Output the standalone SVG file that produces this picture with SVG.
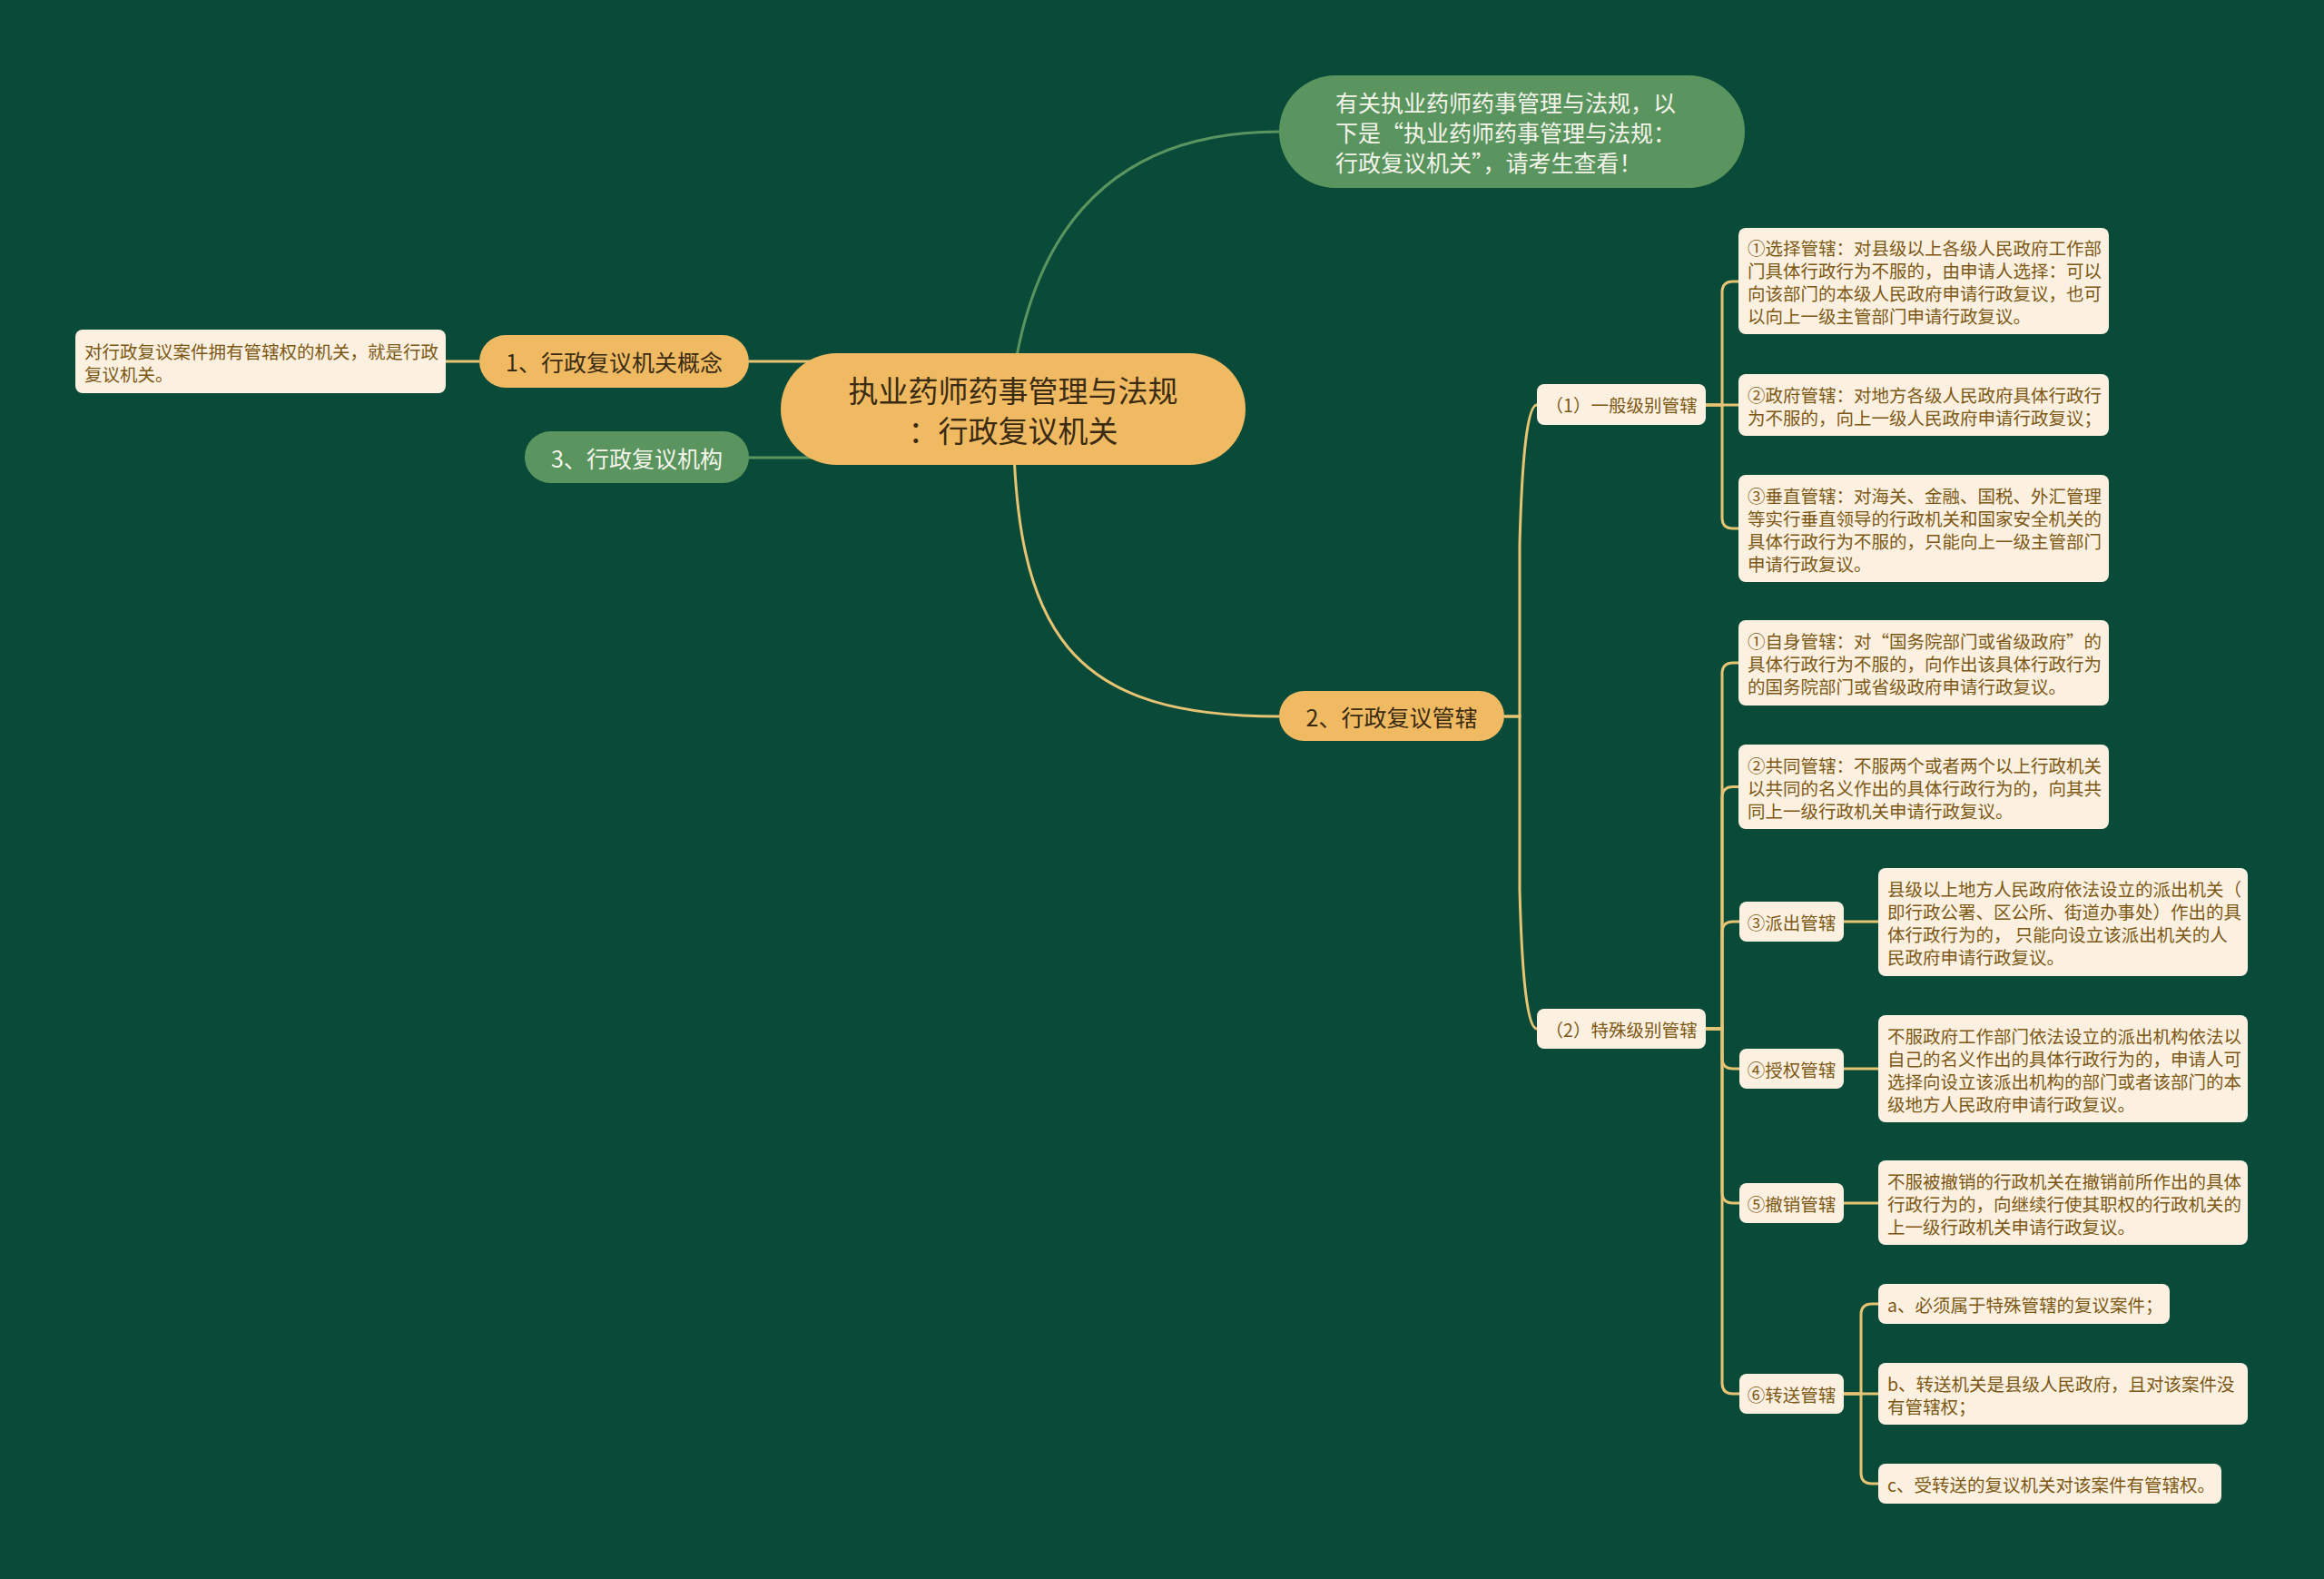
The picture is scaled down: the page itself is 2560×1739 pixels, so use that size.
<svg xmlns="http://www.w3.org/2000/svg" width="2560" height="1739" viewBox="0 0 2560 1739">
<style>
text{font-family:"Noto Sans CJK SC","Noto Sans",sans-serif;dominant-baseline:central}
.gold{fill:#f0ba62}
.green{fill:#5a9560}
.leaf{fill:#fcf1e1}
.tdark{fill:#3a2b12}
.tlight{fill:#f4f4ea}
.tleaf{fill:#7d5814;font-size:19.5px}
.cy{fill:none;stroke:#e6c474;stroke-width:3}
.cg{fill:none;stroke:#5a9560;stroke-width:3}
</style>
<rect width="2560" height="1739" fill="#0a4a38"/>
<g id="connectors">
<path class="cg" d="M1112 450 Q1140 145 1409 145"/>
<path class="cy" d="M1116 450 C1116 700 1180 789 1409 789"/>
<path class="cy" d="M960 398 H825"/>
<path class="cg" d="M960 504 H825"/>
<path class="cy" d="M491 398 H528"/>
<path class="cy" d="M1657 789 H1674 V600 Q1678 446 1693 446"/>
<path class="cy" d="M1657 789 H1674 V980 Q1678 1133 1693 1133"/>
<path class="cy" d="M1879 446 H1897 V322 Q1897 310 1909 310 H1915"/>
<path class="cy" d="M1879 446 H1915"/>
<path class="cy" d="M1879 446 H1897 V570 Q1897 582 1909 582 H1915"/>
<path class="cy" d="M1879 1133 H1897 V742 Q1897 730 1909 730 H1915"/>
<path class="cy" d="M1879 1133 H1897 V878.5 Q1897 866.5 1909 866.5 H1915"/>
<path class="cy" d="M1879 1133 H1897 V1027 Q1897 1015 1909 1015 H1916"/>
<path class="cy" d="M1879 1133 H1897 V1165 Q1897 1177 1909 1177 H1916"/>
<path class="cy" d="M1879 1133 H1897 V1313 Q1897 1325 1909 1325 H1916"/>
<path class="cy" d="M1879 1133 H1897 V1523 Q1897 1535 1909 1535 H1916"/>
<path class="cy" d="M2031 1015 H2069"/>
<path class="cy" d="M2031 1177 H2069"/>
<path class="cy" d="M2031 1325 H2069"/>
<path class="cy" d="M2031 1535 H2050 V1448 Q2050 1436 2062 1436 H2069"/>
<path class="cy" d="M2031 1535 H2069"/>
<path class="cy" d="M2031 1535 H2050 V1622 Q2050 1634 2062 1634 H2069"/>
</g>
<g id="central">
<rect class="gold" x="860" y="389" width="512" height="123" rx="61.5"/>
<text class="tdark" x="1116" y="429" font-size="33" text-anchor="middle">执业药师药事管理与法规</text>
<text class="tdark" x="1116" y="473" font-size="33" text-anchor="middle">：行政复议机关</text>
</g>
<g id="intro">
<rect class="green" x="1409" y="83" width="513" height="124" rx="62"/>
<text class="tlight" font-size="25"><tspan x="1471" y="112">有关执业药师药事管理与法规，以</tspan><tspan x="1471" y="145">下是“执业药师药事管理与法规：</tspan><tspan x="1471" y="178">行政复议机关”，请考生查看！</tspan></text>
</g>
<g id="n1">
<rect class="gold" x="528" y="369" width="297" height="58" rx="29"/>
<text class="tdark" x="676.5" y="398" font-size="25" text-anchor="middle">1、行政复议机关概念</text>
</g>
<g id="n1-leaf">
<rect class="leaf" x="83" y="363" width="408" height="70" rx="8"/>
<text class="tleaf"><tspan x="93" y="386">对行政复议案件拥有管辖权的机关，就是行政</tspan><tspan x="93" y="411">复议机关。</tspan></text>
</g>
<g id="n3">
<rect class="green" x="578" y="475" width="247" height="57" rx="28.5"/>
<text class="tlight" x="701.5" y="503.5" font-size="25" text-anchor="middle">3、行政复议机构</text>
</g>
<g id="n2">
<rect class="gold" x="1409" y="761" width="248" height="55" rx="27.5"/>
<text class="tdark" x="1533" y="788.5" font-size="25" text-anchor="middle">2、行政复议管辖</text>
</g>
<g id="general">
<rect class="leaf" x="1693" y="423" width="186" height="45" rx="8"/>
<text class="tleaf" x="1786" y="445.5" text-anchor="middle">（1）一般级别管辖</text>
</g>
<g id="g1">
<rect class="leaf" x="1915" y="251" width="408" height="117" rx="8"/>
<text class="tleaf"><tspan x="1925" y="272">①选择管辖：对县级以上各级人民政府工作部</tspan><tspan x="1925" y="297">门具体行政行为不服的，由申请人选择：可以</tspan><tspan x="1925" y="322">向该部门的本级人民政府申请行政复议，也可</tspan><tspan x="1925" y="347">以向上一级主管部门申请行政复议。</tspan></text>
</g>
<g id="g2">
<rect class="leaf" x="1915" y="412" width="408" height="68" rx="8"/>
<text class="tleaf"><tspan x="1925" y="433.5">②政府管辖：对地方各级人民政府具体行政行</tspan><tspan x="1925" y="458.5">为不服的，向上一级人民政府申请行政复议；</tspan></text>
</g>
<g id="g3">
<rect class="leaf" x="1915" y="523" width="408" height="118" rx="8"/>
<text class="tleaf"><tspan x="1925" y="544.5">③垂直管辖：对海关、金融、国税、外汇管理</tspan><tspan x="1925" y="569.5">等实行垂直领导的行政机关和国家安全机关的</tspan><tspan x="1925" y="594.5">具体行政行为不服的，只能向上一级主管部门</tspan><tspan x="1925" y="619.5">申请行政复议。</tspan></text>
</g>
<g id="special">
<rect class="leaf" x="1693" y="1111" width="186" height="44" rx="8"/>
<text class="tleaf" x="1786" y="1133" text-anchor="middle">（2）特殊级别管辖</text>
</g>
<g id="s1">
<rect class="leaf" x="1915" y="683" width="408" height="94" rx="8"/>
<text class="tleaf"><tspan x="1925" y="705">①自身管辖：对“国务院部门或省级政府”的</tspan><tspan x="1925" y="730">具体行政行为不服的，向作出该具体行政行为</tspan><tspan x="1925" y="755">的国务院部门或省级政府申请行政复议。</tspan></text>
</g>
<g id="s2">
<rect class="leaf" x="1915" y="820" width="408" height="93" rx="8"/>
<text class="tleaf"><tspan x="1925" y="841.5">②共同管辖：不服两个或者两个以上行政机关</tspan><tspan x="1925" y="866.5">以共同的名义作出的具体行政行为的，向其共</tspan><tspan x="1925" y="891.5">同上一级行政机关申请行政复议。</tspan></text>
</g>
<g id="s3">
<rect class="leaf" x="1916" y="993" width="115" height="44" rx="8"/>
<text class="tleaf" x="1973.5" y="1015" text-anchor="middle">③派出管辖</text>
</g>
<g id="s3-leaf">
<rect class="leaf" x="2069" y="956" width="407" height="119" rx="8"/>
<text class="tleaf"><tspan x="2079" y="978">县级以上地方人民政府依法设立的派出机关（</tspan><tspan x="2079" y="1003">即行政公署、区公所、街道办事处）作出的具</tspan><tspan x="2079" y="1028">体行政行为的， 只能向设立该派出机关的人</tspan><tspan x="2079" y="1053">民政府申请行政复议。</tspan></text>
</g>
<g id="s4">
<rect class="leaf" x="1916" y="1155" width="115" height="44" rx="8"/>
<text class="tleaf" x="1973.5" y="1177" text-anchor="middle">④授权管辖</text>
</g>
<g id="s4-leaf">
<rect class="leaf" x="2069" y="1118" width="407" height="118" rx="8"/>
<text class="tleaf"><tspan x="2079" y="1139.5">不服政府工作部门依法设立的派出机构依法以</tspan><tspan x="2079" y="1164.5">自己的名义作出的具体行政行为的，申请人可</tspan><tspan x="2079" y="1189.5">选择向设立该派出机构的部门或者该部门的本</tspan><tspan x="2079" y="1214.5">级地方人民政府申请行政复议。</tspan></text>
</g>
<g id="s5">
<rect class="leaf" x="1916" y="1303" width="115" height="44" rx="8"/>
<text class="tleaf" x="1973.5" y="1325" text-anchor="middle">⑤撤销管辖</text>
</g>
<g id="s5-leaf">
<rect class="leaf" x="2069" y="1278" width="407" height="93" rx="8"/>
<text class="tleaf"><tspan x="2079" y="1299.5">不服被撤销的行政机关在撤销前所作出的具体</tspan><tspan x="2079" y="1324.5">行政行为的，向继续行使其职权的行政机关的</tspan><tspan x="2079" y="1349.5">上一级行政机关申请行政复议。</tspan></text>
</g>
<g id="s6">
<rect class="leaf" x="1916" y="1513" width="115" height="44" rx="8"/>
<text class="tleaf" x="1973.5" y="1535" text-anchor="middle">⑥转送管辖</text>
</g>
<g id="s6a">
<rect class="leaf" x="2069" y="1414" width="321" height="44" rx="8"/>
<text class="tleaf" x="2079" y="1436">a、必须属于特殊管辖的复议案件；</text>
</g>
<g id="s6b">
<rect class="leaf" x="2069" y="1501" width="407" height="68" rx="8"/>
<text class="tleaf"><tspan x="2079" y="1522.5">b、转送机关是县级人民政府，且对该案件没</tspan><tspan x="2079" y="1547.5">有管辖权；</tspan></text>
</g>
<g id="s6c">
<rect class="leaf" x="2069" y="1612" width="378" height="44" rx="8"/>
<text class="tleaf" x="2079" y="1634">c、受转送的复议机关对该案件有管辖权。</text>
</g>
</svg>
